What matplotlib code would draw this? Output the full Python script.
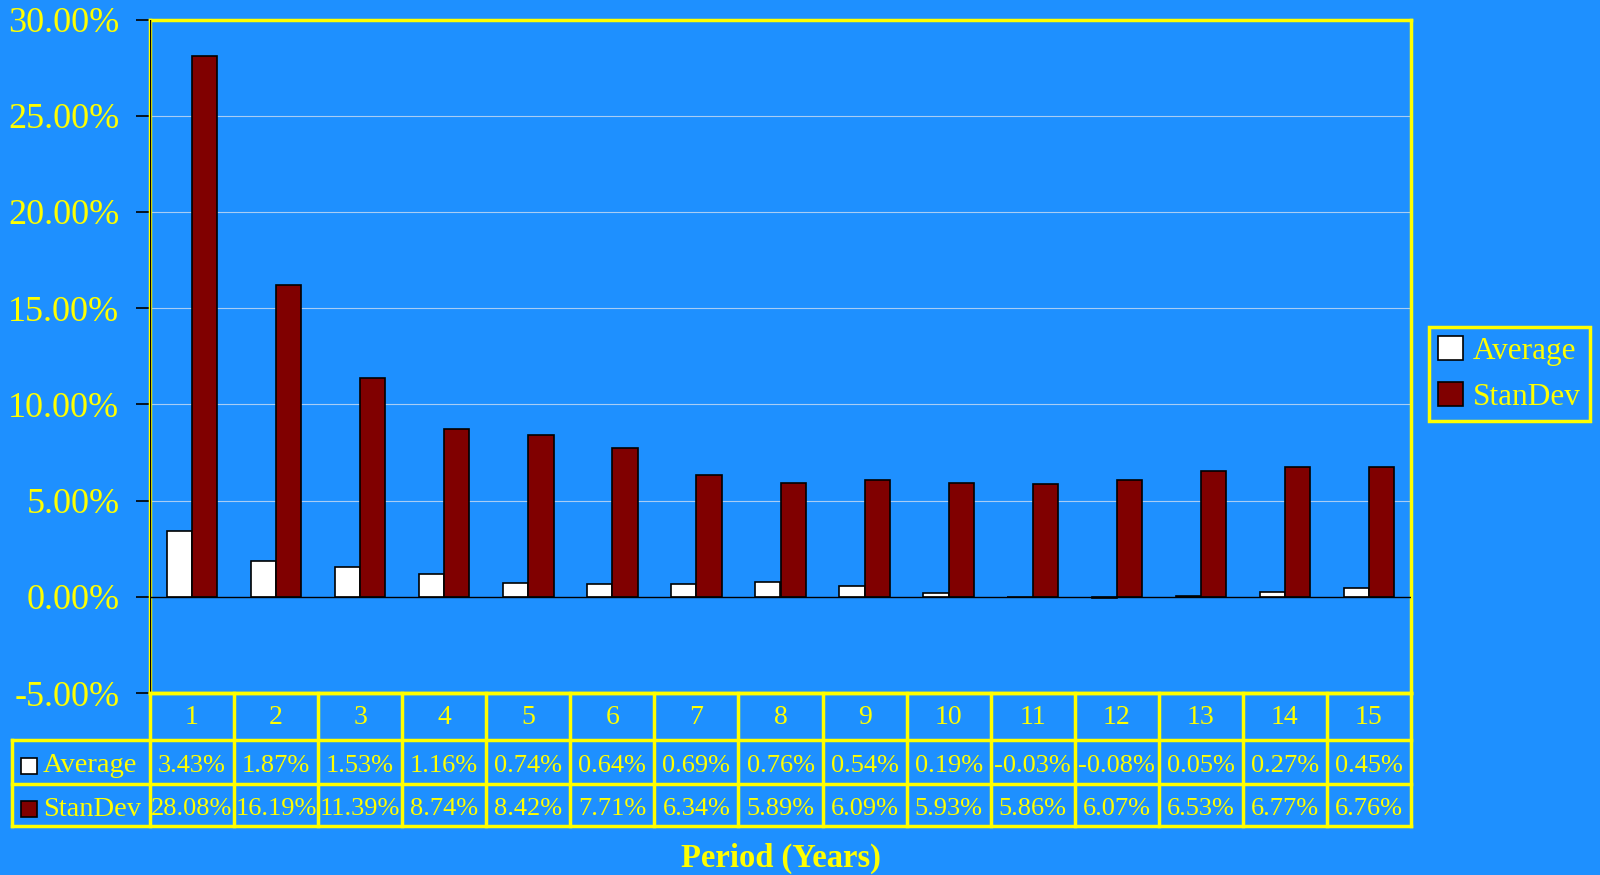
import numpy as np
import matplotlib.pyplot as plt
from matplotlib.patches import Rectangle

periods = [str(i) for i in range(1, 16)]
average = [3.43, 1.87, 1.53, 1.16, 0.74, 0.64, 0.69, 0.76, 0.54, 0.19,
           -0.03, -0.08, 0.05, 0.27, 0.45]
standev = [28.08, 16.19, 11.39, 8.74, 8.42, 7.71, 6.34, 5.89, 6.09, 5.93,
           5.86, 6.07, 6.53, 6.77, 6.76]
series_names = ["Average", "StanDev"]
series_colors = ["white", "#800000"]
yticks = [-5, 0, 5, 10, 15, 20, 25, 30]

bg = "#1E90FF"
yellow = "#FFFF00"
plt.rcParams['font.family'] = ['Liberation Serif', 'DejaVu Serif']

W, H = 1600, 875
fig = plt.figure(figsize=(16, 8.75), dpi=100, facecolor=bg)

def fbox(x0, y0, x1, y1):
    return [x0 / W, 1 - y1 / H, (x1 - x0) / W, (y1 - y0) / H]

# main chart
ax = fig.add_axes(fbox(150, 19.5, 1411, 693))
ax.set_facecolor(bg)
x = np.arange(len(periods))
bw = 0.3
ax.bar(x - bw / 2, average, bw, color=series_colors[0], edgecolor="black",
       linewidth=1.2, zorder=3)
ax.bar(x + bw / 2, standev, bw, color=series_colors[1], edgecolor="black",
       linewidth=1.2, zorder=3)
ax.set_xlim(-0.5, len(periods) - 0.5)
ax.set_ylim(-5, 30)
ax.set_yticks(yticks)
ax.set_yticklabels([f"{v:.2f}%" for v in yticks], color=yellow, fontsize=26)
ax.set_xticks([])
for v in yticks[2:-1]:
    ax.axhline(v, color="#a8cdf5", linewidth=0.8, zorder=1)
ax.axhline(0, color="black", linewidth=1.0, zorder=4)
ax.tick_params(axis="y", direction="out", length=10, width=1.2,
               color="black", pad=12)
for s in ax.spines.values():
    s.set_color(yellow)
    s.set_linewidth(2.5)
ax.axvline(-0.5, color="black", linewidth=1.0, zorder=5)

# legend on the right
handles = [Rectangle((0, 0), 1, 1, facecolor=c, edgecolor="black", linewidth=1.2)
           for c in series_colors]
leg = fig.legend(handles, series_names, loc="center left",
                 bbox_to_anchor=(1429 / W, 1 - 374 / H), fontsize=22.5,
                 facecolor=bg, edgecolor=yellow, framealpha=1,
                 fancybox=False, handlelength=0.8, handleheight=0.8,
                 handletextpad=0.3, borderpad=0.3, labelspacing=0.5,
                 borderaxespad=0)
leg.get_frame().set_linewidth(2.5)
for t in leg.get_texts():
    t.set_color(yellow)

# data table under the chart
col_w = (1411 - 150) / len(periods)
label_w = (150 - 12) / col_w
tab = fig.add_axes(fbox(12, 693, 1411, 826))
tab.set_xlim(-label_w, len(periods))
tab.set_ylim(133, 0)
tab.axis("off")
row_edges = [0, 47, 91, 133]
lw = 2.5
tab.plot([0, len(periods)], [0, 0], color=yellow, lw=lw, clip_on=False)
for ry in row_edges[1:]:
    tab.plot([-label_w, len(periods)], [ry, ry], color=yellow, lw=lw,
             clip_on=False)
for c in range(len(periods) + 1):
    tab.plot([c, c], [0, 133], color=yellow, lw=lw, clip_on=False)
tab.plot([-label_w, -label_w], [47, 133], color=yellow, lw=lw, clip_on=False)

for i, p in enumerate(periods):
    tab.text(i + 0.5, 24, p, ha="center", va="center", color=yellow,
             fontsize=20)
for r, (vals, name, col) in enumerate(zip([average, standev], series_names,
                                           series_colors)):
    yc = (row_edges[r + 1] + row_edges[r + 2]) / 2 + 4
    for i, v in enumerate(vals):
        tab.text(i + 0.5, yc, f"{v:.2f}%", ha="center", va="center",
                 color=yellow, fontsize=19)
    tab.add_patch(Rectangle((-label_w + 0.11, yc - 8), 0.19, 16,
                            facecolor=col, edgecolor="black", lw=1.2,
                            clip_on=False))
    tab.text(-label_w + 0.37, yc, name, ha="left", va="center", color=yellow,
             fontsize=20.5)

fig.text(781 / W, 1 - 858 / H, "Period (Years)", ha="center", va="center",
         color=yellow, fontsize=23.5, fontweight="bold")

fig.savefig("out.png", dpi=100, facecolor=bg)
